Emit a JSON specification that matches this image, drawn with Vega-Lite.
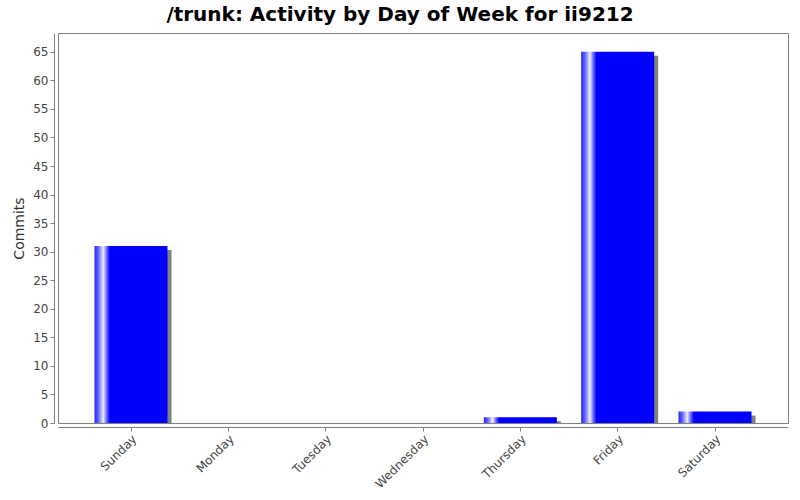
{
  "$schema": "https://vega.github.io/schema/vega-lite/v6.json",
  "width": 730,
  "height": 390,
  "autosize": "none",
  "padding": {"left": 58, "top": 33, "right": 12, "bottom": 77},
  "background": "white",
  "title": {
    "text": "/trunk: Activity by Day of Week for ii9212",
    "font": "DejaVu Sans",
    "fontSize": 20,
    "fontWeight": "bold",
    "color": "black",
    "anchor": "middle",
    "dx": -23,
    "offset": 8
  },
  "data": {
    "values": [
      {"day": "Sunday", "commits": 31},
      {"day": "Monday", "commits": 0},
      {"day": "Tuesday", "commits": 0},
      {"day": "Wednesday", "commits": 0},
      {"day": "Thursday", "commits": 1},
      {"day": "Friday", "commits": 65},
      {"day": "Saturday", "commits": 2}
    ]
  },
  "config": {
    "view": {"stroke": "#808080", "strokeWidth": 1},
    "axis": {
      "labelFont": "DejaVu Sans",
      "labelFontSize": 12,
      "labelColor": "#444444",
      "titleFont": "DejaVu Sans",
      "titleFontSize": 14,
      "titleFontWeight": "normal",
      "titleColor": "#333333",
      "domainColor": "#808080",
      "tickColor": "#808080",
      "tickSize": 4,
      "grid": false,
      "offset": 4
    }
  },
  "encoding": {
    "x": {
      "field": "day",
      "type": "nominal",
      "sort": null,
      "title": null,
      "scale": {"paddingInner": 0.25, "paddingOuter": 0.375},
      "axis": {"labelAngle": -45, "labelPadding": 2}
    },
    "y": {
      "field": "commits",
      "type": "quantitative",
      "title": "Commits",
      "scale": {"domain": [0, 68.3], "nice": false},
      "axis": {"values": [0, 5, 10, 15, 20, 25, 30, 35, 40, 45, 50, 55, 60, 65], "titlePadding": 6}
    }
  },
  "layer": [
    {
      "mark": {"type": "bar", "color": "#808080", "xOffset": 4, "yOffset": 4, "clip": true}
    },
    {
      "mark": {
        "type": "bar",
        "color": {
          "gradient": "linear",
          "x1": 0, "x2": 1, "y1": 0, "y2": 0,
          "stops": [
            {"offset": 0, "color": "#2020ff"},
            {"offset": 0.06, "color": "#7070ff"},
            {"offset": 0.12, "color": "#eeeeff"},
            {"offset": 0.17, "color": "#6060ff"},
            {"offset": 0.21, "color": "#0000ff"},
            {"offset": 1, "color": "#0000ff"}
          ]
        }
      }
    }
  ]
}
